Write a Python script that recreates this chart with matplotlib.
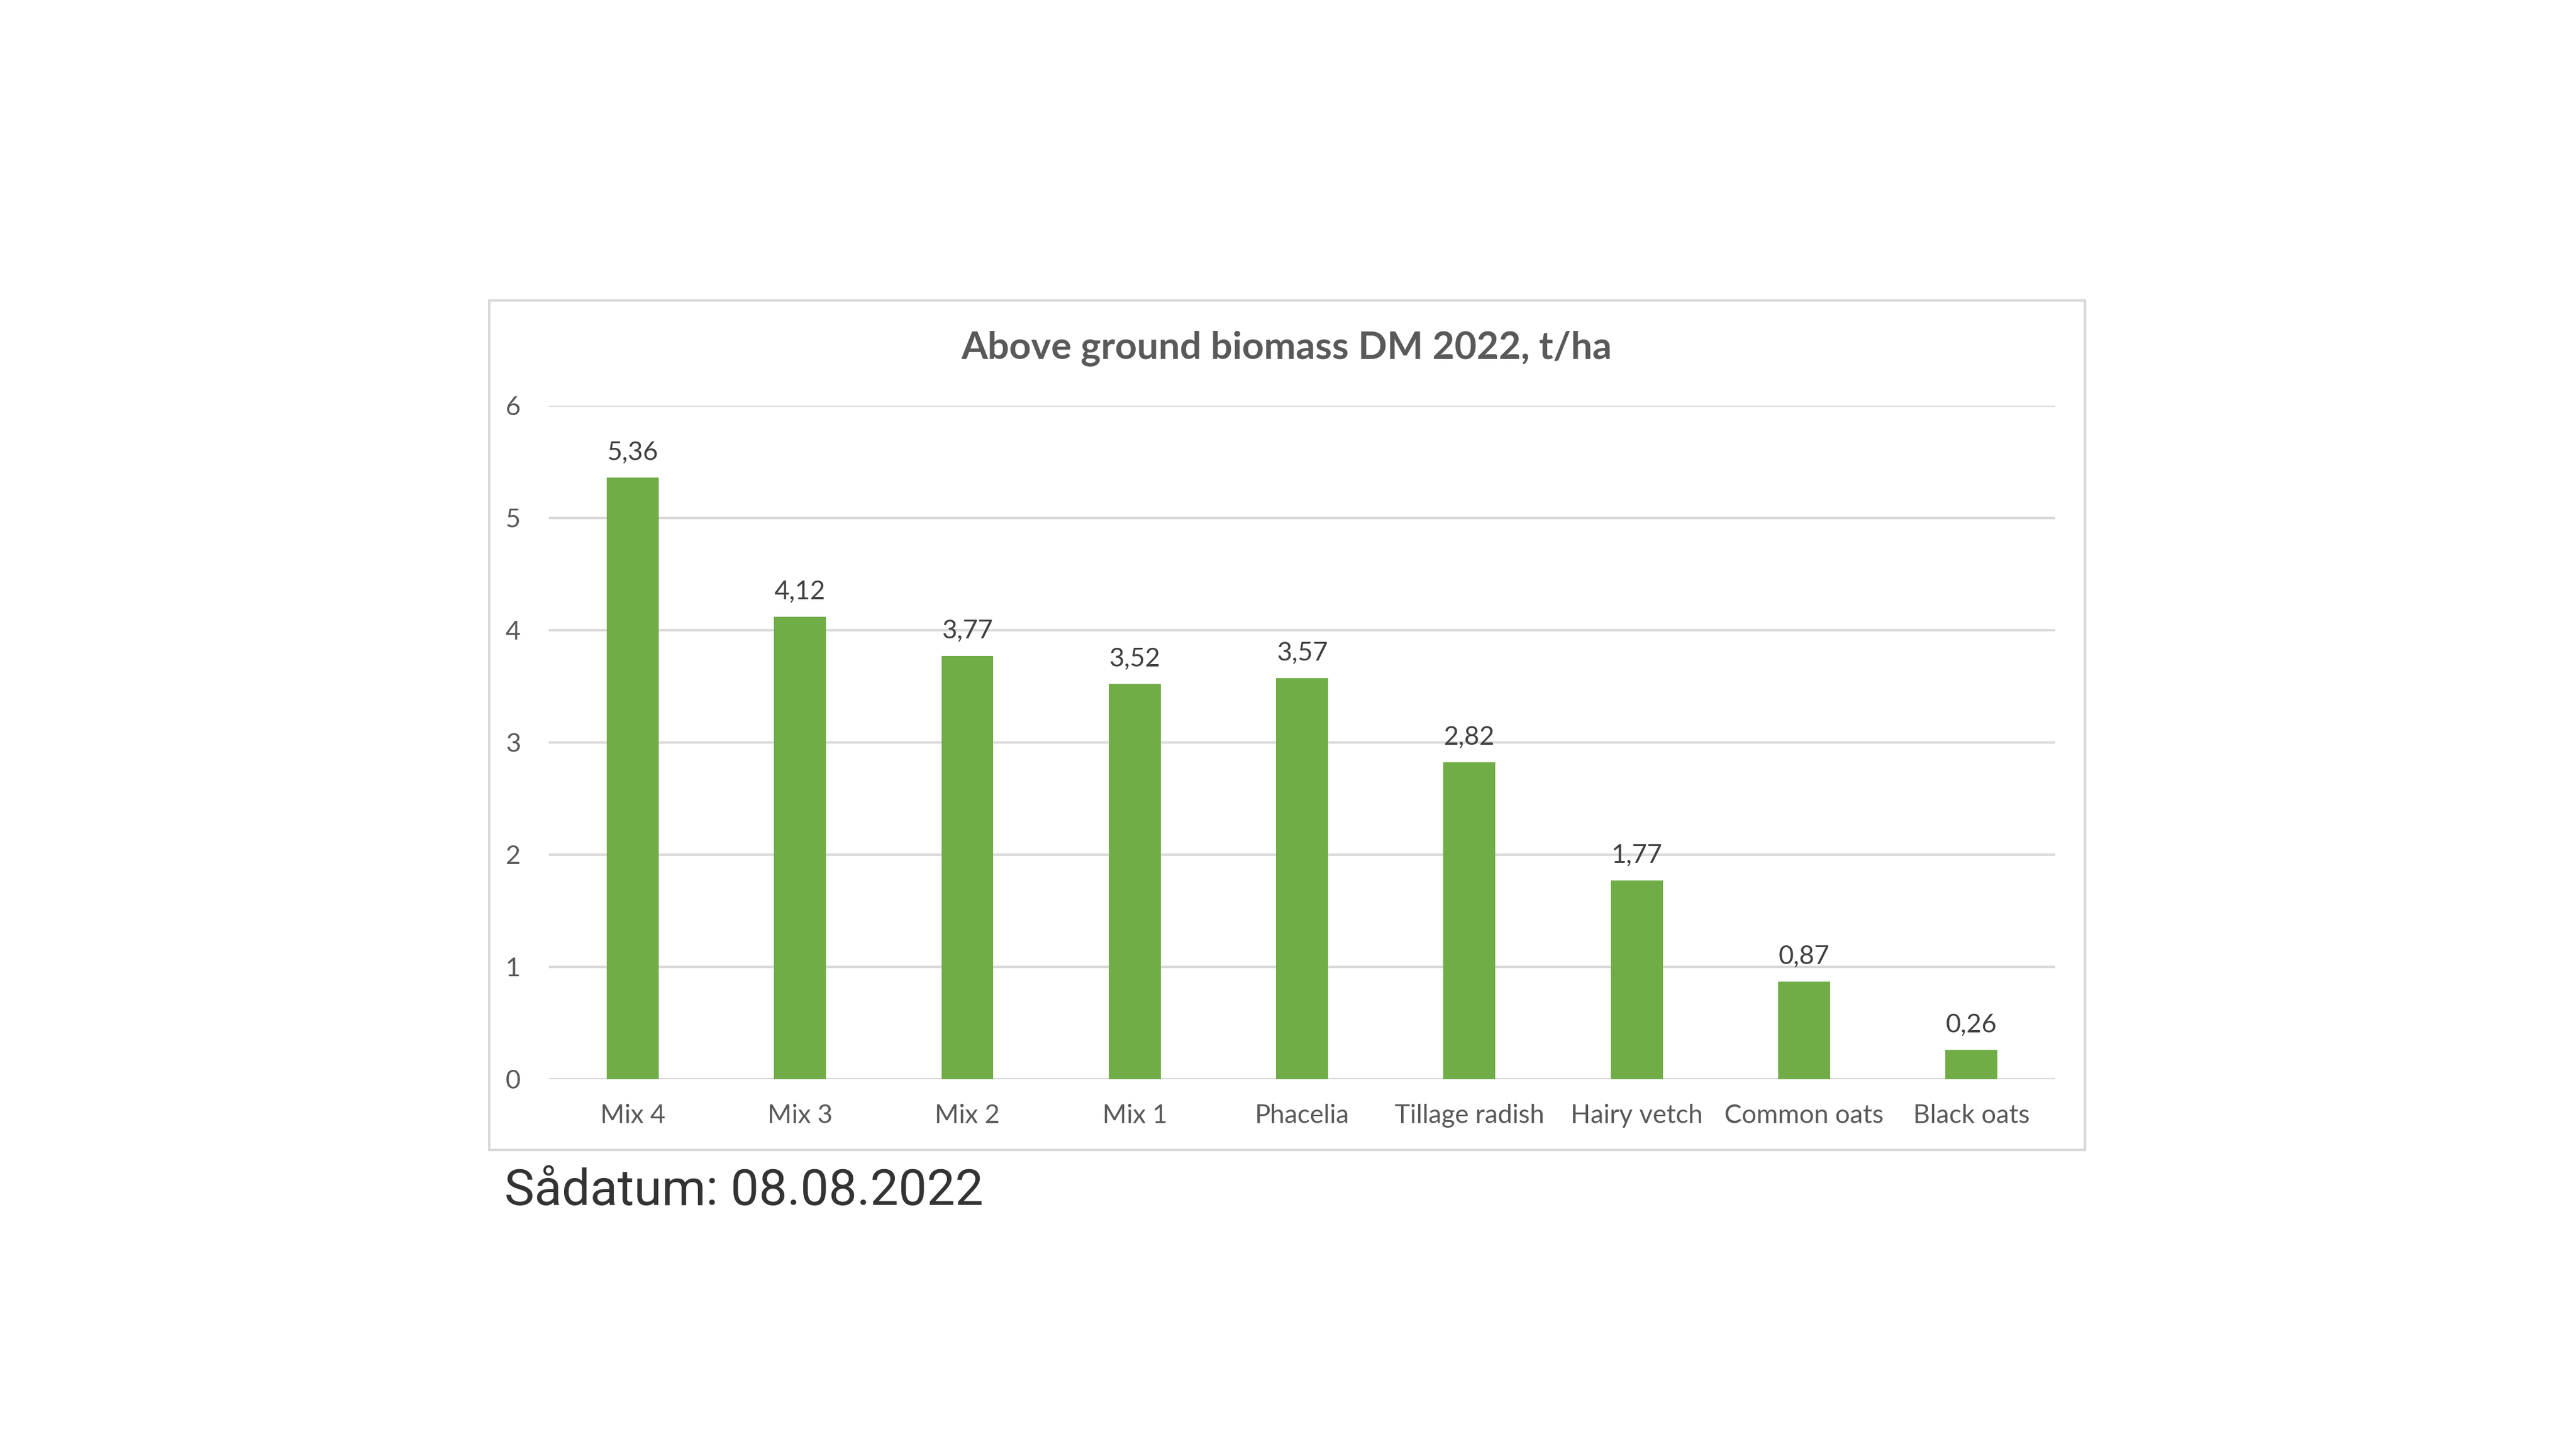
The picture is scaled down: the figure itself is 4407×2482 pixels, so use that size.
import matplotlib
matplotlib.use('Agg')
from matplotlib import pyplot as plt
from matplotlib.patches import Rectangle

categories = ['Mix 4', 'Mix 3', 'Mix 2', 'Mix 1', 'Phacelia', 'Tillage radish',
              'Hairy vetch', 'Common oats', 'Black oats']
biomass = [5.36, 4.12, 3.77, 3.52, 3.57, 2.82, 1.77, 0.87, 0.26]
y_ticks = [0, 1, 2, 3, 4, 5, 6]

title = 'Above ground biomass DM 2022, t/ha'
note = 'Sådatum: 08.08.2022'

green = '#70AD47'
text_grey = '#595959'
grid_grey = '#D9D9D9'

fig = plt.figure(figsize=(44.07, 24.82), dpi=100)

# chart frame like the Excel chart area
frame = Rectangle((0.1899, 0.2075), 0.6195, 0.5854, transform=fig.transFigure,
                  facecolor='none', edgecolor=grid_grey, linewidth=3, zorder=0)
fig.patches.append(frame)

ax = fig.add_axes([0.2131, 0.2563, 0.5847, 0.4641])
ax.set_facecolor('none')
x = range(len(categories))
bars = ax.bar(x, biomass, width=0.31, color=green, zorder=3)

ax.set_xlim(-0.5, len(categories) - 0.5)
ax.set_ylim(0, 6)
ax.set_yticks(y_ticks)
ax.set_yticklabels([str(t) for t in y_ticks])
ax.set_xticks(list(x))
ax.set_xticklabels(categories)
ax.yaxis.grid(True, color=grid_grey, linewidth=3, zorder=0)
ax.set_axisbelow(True)
for s in ax.spines.values():
    s.set_visible(False)
ax.tick_params(axis='both', length=0, labelsize=32, labelcolor=text_grey)
ax.tick_params(axis='x', pad=30)
ax.tick_params(axis='y', pad=35)
for lab in ax.get_xticklabels() + ax.get_yticklabels():
    lab.set_family('Lato')

for b, v in zip(bars, biomass):
    ax.annotate(f'{v:.2f}'.replace('.', ','), (b.get_x() + b.get_width() / 2, v),
                xytext=(0, 16), textcoords='offset points', ha='center', va='bottom',
                fontsize=32, color='#404040', family='Lato')

fig.text(0.4995, 0.7598, title, ha='center', va='center', fontsize=47,
         fontweight='bold', color=text_grey, family='Lato')
fig.text(0.1958, 0.179, note, ha='left', va='center', fontsize=62,
         color='#333333', family='Roboto')

fig.savefig('out.png', dpi=100, facecolor='white')
